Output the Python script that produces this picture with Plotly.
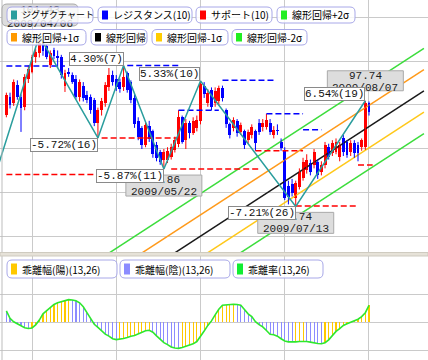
import plotly.graph_objects as go
import pandas as pd

W, H = 428, 360

# ---------------- data ----------------
dates = pd.bdate_range("2009-03-24", "2009-08-10").strftime("%Y/%m/%d").tolist()

opens = [96.93, 97.95, 97.61, 98.64, 97.95, 97.40, 99.00, 99.40, 100.20, 100.45,
         101.00, 100.85, 99.77, 100.60, 100.30, 100.20, 98.60, 99.38, 99.20, 99.00,
         97.95, 98.60, 98.07, 97.95, 97.78, 96.50, 97.20, 97.60, 98.50, 99.20,
         99.00, 98.80, 98.50, 99.30, 98.80, 97.90, 96.60, 96.20, 95.25, 96.30,
         96.00, 95.20, 94.83, 94.38, 94.40, 94.55, 94.94, 95.30, 96.80, 95.50,
         96.50, 95.90, 96.20, 96.60, 98.60, 97.60, 98.35, 97.60, 97.70, 98.45,
         97.20, 96.40, 96.20, 96.60, 95.97, 96.00, 95.50, 95.80, 96.00, 96.50,
         96.25, 96.25, 96.50, 95.80, 96.10, 95.40, 94.94, 92.90, 93.00, 92.20,
         92.84, 93.35, 93.81, 94.20, 94.09, 94.26, 93.69, 94.09, 95.11, 94.80,
         94.83, 94.55, 95.63, 95.40, 94.83, 95.34, 95.23, 95.11, 95.11, 97.60]
highs = [98.20, 98.20, 98.95, 98.90, 98.10, 99.25, 99.75, 100.35, 100.71, 101.43,
         101.15, 100.95, 100.60, 100.75, 100.60, 100.35, 99.50, 99.60, 99.35, 99.20,
         98.95, 98.80, 98.30, 98.10, 97.90, 97.35, 97.90, 98.80, 99.60, 99.45,
         99.20, 99.00, 99.74, 99.40, 98.90, 98.10, 96.80, 96.30, 96.50, 96.60,
         96.10, 95.40, 94.95, 95.00, 95.10, 95.30, 95.70, 97.20, 96.90, 96.70,
         96.60, 96.80, 96.90, 98.86, 98.80, 98.40, 98.50, 98.50, 98.60, 98.60,
         97.30, 96.50, 96.80, 96.70, 96.50, 96.10, 96.10, 96.40, 96.10, 96.70,
         96.70, 97.00, 96.70, 96.30, 96.40, 95.60, 95.10, 93.20, 93.30, 93.20,
         93.90, 94.50, 94.70, 94.40, 95.00, 94.40, 94.30, 95.40, 95.30, 95.50,
         95.60, 95.40, 95.80, 95.50, 95.50, 95.50, 95.40, 95.60, 97.74, 97.70]
lows = [96.80, 97.30, 97.45, 97.80, 95.97, 97.20, 98.75, 99.30, 99.90, 100.20,
        100.30, 100.10, 99.60, 100.10, 99.60, 99.00, 98.24, 99.10, 98.70, 97.85,
        97.70, 97.70, 97.60, 97.00, 96.30, 95.63, 96.90, 97.40, 98.30, 98.60,
        98.30, 98.20, 98.30, 98.20, 97.60, 96.20, 95.50, 95.00, 95.10, 95.40,
        94.50, 94.30, 94.10, 93.86, 94.20, 94.40, 94.80, 95.10, 95.30, 95.00,
        95.60, 95.80, 96.00, 96.40, 97.90, 97.40, 97.20, 97.40, 97.50, 97.70,
        96.20, 95.60, 96.00, 95.70, 95.80, 95.00, 95.30, 95.60, 94.90, 95.80,
        96.00, 96.10, 95.80, 95.60, 95.80, 94.90, 92.10, 91.85, 92.30, 91.74,
        92.70, 93.20, 93.60, 93.50, 93.90, 93.30, 93.50, 93.90, 94.40, 94.60,
        94.70, 94.30, 94.60, 94.50, 94.60, 94.50, 94.30, 94.90, 94.95, 96.90]
closes = [98.07, 97.50, 98.81, 97.95, 97.33, 99.10, 99.55, 100.23, 100.50, 101.05,
          100.55, 100.20, 100.45, 100.30, 100.17, 99.20, 99.30, 99.26, 98.81, 97.95,
          98.81, 97.90, 97.78, 97.22, 96.50, 97.20, 97.70, 98.64, 99.20, 98.81,
          98.50, 98.40, 99.10, 98.35, 97.80, 96.40, 95.70, 95.25, 96.36, 95.55,
          94.70, 94.50, 94.26, 94.83, 94.90, 95.11, 95.51, 96.80, 95.40, 96.50,
          95.90, 96.60, 96.65, 98.70, 98.10, 98.20, 97.40, 98.30, 98.45, 97.90,
          96.40, 95.80, 96.65, 95.90, 96.36, 95.20, 95.97, 96.25, 95.34, 95.97,
          96.50, 96.65, 95.97, 96.08, 96.00, 95.06, 92.22, 92.25, 92.50, 93.07,
          93.69, 94.26, 94.38, 93.69, 94.83, 93.52, 94.09, 95.23, 94.55, 95.34,
          95.40, 95.20, 94.83, 94.66, 95.34, 94.77, 94.77, 95.51, 97.60, 97.10]

# MA(13,26) deviation values (sub panel)
deviation = [0.40, 0.14, 0.02, -0.06, -0.13, -0.19, -0.22, -0.20, -0.09, 0.08,
             0.30, 0.42, 0.53, 0.63, 0.69, 0.73, 0.77, 0.80, 0.79, 0.76,
             0.69, 0.55, 0.34, 0.11, -0.07, -0.18, -0.31, -0.42, -0.49, -0.58,
             -0.61, -0.60, -0.57, -0.54, -0.49, -0.47, -0.41, -0.35, -0.30, -0.28,
             -0.35, -0.48, -0.60, -0.72, -0.79, -0.87, -0.91, -0.92, -0.89, -0.85,
             -0.81, -0.76, -0.68, -0.51, -0.31, -0.11, 0.05, 0.26, 0.46, 0.60,
             0.62, 0.63, 0.64, 0.63, 0.60, 0.45, 0.30, 0.20, 0.02, -0.08,
             -0.16, -0.29, -0.42, -0.44, -0.49, -0.58, -0.66, -0.69, -0.70, -0.69,
             -0.68, -0.67, -0.68, -0.70, -0.73, -0.75, -0.76, -0.72, -0.62, -0.46,
             -0.32, -0.22, -0.11, -0.05, 0.01, 0.06, 0.11, 0.20, 0.34, 0.60]

# zigzag pivots (bar index, price)
zz_idx = [-3, 9, 25, 32, 43, 53, 79, 98]
zz_price = [93.55, 101.43, 95.63, 99.74, 93.86, 98.86, 91.74, 97.74]
zz_text = [None, "8.42%(12)", "-5.72%(16)", "4.30%(7)", "-5.87%(11)",
           "5.33%(10)", "-7.21%(26)", "6.54%(19)"]
callout_idx = [9, 43, 79, 98]
callout_price = ["101.43", "93.86", "91.74", "97.74"]
callout_date = ["2009/04/06", "2009/05/22", "2009/07/13", "2009/08/07"]

# resistance / support segments: (start bar, end bar, level)
resistance = [(0, 16, 99.72), (33, 47, 99.74), (47, 58, 97.20), (59, 73, 98.90),
              (71, 81, 97.00), (81, 86, 96.10)]
support = [(0, 25, 93.55), (26, 47, 95.63), (45, 69, 93.86), (68, 81, 94.90),
           (79, 96, 91.76), (96, 100, 94.09)]

# linear regression channel
reg_from, reg_to = 0, 114
reg_anchor_idx, reg_anchor_val = 99, 96.27
reg_slope = 0.1353
reg_sigma = 1.21

main_legend = ["ジグザクチャート", "レジスタンス(10)", "サポート(10)", "線形回帰+2σ",
               "線形回帰+1σ", "線形回帰", "線形回帰-1σ", "線形回帰-2σ"]
sub_legend = ["乖離幅(陽)(13,26)", "乖離幅(陰)(13,26)", "乖離率(13,26)"]

# ---------------- style ----------------
UP, DOWN = "#FF0000", "#0000FF"
ZZ = "#2A9D9D"
C_P2, C_P1, C_C, C_M1, C_M2 = "#3CDD3C", "#FF9A1A", "#1A1A1A", "#FFC81A", "#3CDD3C"
GRID = "#CACACA"
JP = "Noto Sans CJK JP"
MONO = "Liberation Mono"

def X(p):
    return p / W

def Y(p):
    return 1 - p / H

def rr_path(x0, y0, x1, y1, r=4):
    return (f"M {X(x0 + r)},{Y(y0)} L {X(x1 - r)},{Y(y0)} Q {X(x1)},{Y(y0)} {X(x1)},{Y(y0 + r)} "
            f"L {X(x1)},{Y(y1 - r)} Q {X(x1)},{Y(y1)} {X(x1 - r)},{Y(y1)} "
            f"L {X(x0 + r)},{Y(y1)} Q {X(x0)},{Y(y1)} {X(x0)},{Y(y1 - r)} "
            f"L {X(x0)},{Y(y0 + r)} Q {X(x0)},{Y(y0)} {X(x0 + r)},{Y(y0)} Z")

n = len(closes)
idx = list(range(n))
fig = go.Figure()

# regression channel
for k, col in [(2, C_P2), (1, C_P1), (0, C_C), (-1, C_M1), (-2, C_M2)]:
    xs = [reg_from, reg_to]
    ys = [reg_anchor_val + (x - reg_anchor_idx) * reg_slope + k * reg_sigma for x in xs]
    fig.add_trace(go.Scatter(x=xs, y=ys, mode="lines", line=dict(color=col, width=1.5),
                             xaxis="x", yaxis="y", showlegend=False, hoverinfo="skip"))

# candles: wicks
for col, cond in [(UP, lambda i: closes[i] >= opens[i]), (DOWN, lambda i: closes[i] < opens[i])]:
    wx, wy = [], []
    for i in idx:
        if cond(i):
            wx += [i, i, None]
            wy += [lows[i], highs[i], None]
    fig.add_trace(go.Scatter(x=wx, y=wy, mode="lines", line=dict(color=col, width=1),
                             xaxis="x", yaxis="y", showlegend=False, hoverinfo="skip"))
# candle bodies
body = [max(abs(closes[i] - opens[i]), 0.04) for i in idx]
base = [min(opens[i], closes[i]) for i in idx]
bcol = [UP if closes[i] >= opens[i] else DOWN for i in idx]
fig.add_trace(go.Bar(x=idx, y=body, base=base, width=0.8, marker=dict(color=bcol, line_width=0),
                     xaxis="x", yaxis="y", showlegend=False, hoverinfo="skip"))

# support / resistance
for segs, col in [(resistance, DOWN), (support, UP)]:
    sx, sy = [], []
    for a, b, lv in segs:
        sx += [a, b, None]
        sy += [lv, lv, None]
    fig.add_trace(go.Scatter(x=sx, y=sy, mode="lines", line=dict(color=col, width=1.5, dash="6px,3px"),
                             xaxis="x", yaxis="y", showlegend=False, hoverinfo="skip"))

# zigzag
fig.add_trace(go.Scatter(x=zz_idx, y=zz_price, mode="lines", line=dict(color=ZZ, width=1.5),
                         xaxis="x", yaxis="y", showlegend=False, hoverinfo="skip"))

# sub panel bars + line
dcol = ["#8C8CFF" if i == 0 or deviation[i] < deviation[i - 1] else "#FFC800" for i in idx]
fig.add_trace(go.Bar(x=idx, y=deviation, width=0.3, marker=dict(color=dcol, line_width=0),
                     xaxis="x2", yaxis="y2", showlegend=False, hoverinfo="skip"))
fig.add_trace(go.Scatter(x=idx, y=deviation, mode="lines", line=dict(color="#2EE82E", width=1.6),
                         xaxis="x2", yaxis="y2", showlegend=False, hoverinfo="skip"))

# ---------------- layout ----------------
xr = [-1.736, 115.11]
main_dom = [1 - 253 / H, 1]
sub_dom = [0, 1 - 255 / H]
fig.update_layout(
    width=W, height=H, margin=dict(l=0, r=0, t=0, b=0),
    paper_bgcolor="white", plot_bgcolor="white", hovermode=False, bargap=0,
    xaxis=dict(domain=[0, 1], range=xr, tickvals=[7, 30, 53, 76, 99], showticklabels=False,
               showgrid=True, gridcolor=GRID, gridwidth=1, zeroline=False, anchor="y", ticks=""),
    yaxis=dict(domain=main_dom, range=[89.09, 103.466], tickvals=[90, 92.5, 95, 97.5, 100, 102.5],
               showticklabels=False, showgrid=True, gridcolor=GRID, gridwidth=1, zeroline=False,
               anchor="x", ticks=""),
    xaxis2=dict(domain=[0, 1], range=xr, tickvals=[7, 30, 53, 76, 99], showticklabels=False,
                showgrid=True, gridcolor=GRID, gridwidth=1, zeroline=False, anchor="y2", ticks=""),
    yaxis2=dict(domain=sub_dom, range=[-1.332, 2.378], tickvals=[-1, 0, 1], showticklabels=False,
                showgrid=True, gridcolor=GRID, gridwidth=1, zeroline=False, anchor="x2", ticks=""),
)

shapes = []
annotations = []

# frames and separator
shapes.append(dict(type="line", xref="paper", yref="paper", x0=X(2), x1=X(2), y0=Y(0), y1=Y(253),
                   line=dict(color="#BDBDBD", width=1), layer="above"))
shapes.append(dict(type="line", xref="paper", yref="paper", x0=X(2), x1=X(2), y0=Y(255), y1=Y(360),
                   line=dict(color="#BDBDBD", width=1), layer="above"))
shapes.append(dict(type="rect", xref="paper", yref="paper", x0=0, x1=1, y0=Y(256), y1=Y(252.5),
                   fillcolor="#E6E2D8", line=dict(color="#CFCBC0", width=1), layer="above"))

# label for first pivot (mostly covered by the legend)
shapes.append(dict(type="path", path=rr_path(2, 4, 78, 26, 5), xref="paper", yref="paper",
                   fillcolor="#DDDDDD", line=dict(color="#AAAAAA", width=1), layer="above",
                   label=dict(text=callout_price[0] + "<br>" + callout_date[0],
                              font=dict(family=MONO, size=11, color="#222"), textposition="middle center")))

# legend boxes
def legend_item(x0, x1, y0, y1, color, text, size=10):
    shapes.append(dict(type="path", path=rr_path(x0, y0, x1, y1, 5), xref="paper", yref="paper",
                       fillcolor="rgba(255,255,255,0.82)", line=dict(color="#A8A8E8", width=1),
                       layer="above"))
    shapes.append(dict(type="rect", xref="paper", yref="paper", x0=X(x0 + 4), x1=X(x0 + 10),
                       y0=Y(y0 + 3.5), y1=Y(y1 - 3.5), fillcolor=color, line=dict(width=0), layer="above"))
    annotations.append(dict(xref="paper", yref="paper", x=X(x0 + 13), y=Y((y0 + y1) / 2),
                            xanchor="left", yanchor="middle", text=text, showarrow=False,
                            font=dict(family=JP, size=size, color="#000")))

main_colors = [ZZ, DOWN, UP, "#22EE22", "#FF9900", "#000000", "#FFCC00", "#22EE22"]
row1 = [(7, 93), (98, 192), (196, 272), (277, 355)]
row2 = [(7, 86), (91, 147), (152, 228), (232, 307)]
sizes = [9, 10, 10, 10, 10, 10, 10, 10]
for k, (a, b) in enumerate(row1):
    legend_item(a, b, 7, 23, main_colors[k], main_legend[k], sizes[k])
for k, (a, b) in enumerate(row2):
    legend_item(a, b, 29.5, 45, main_colors[4 + k], main_legend[4 + k], sizes[4 + k])
sub_colors = ["#FFC800", "#8C8CFF", "#11EE33"]
for k, (a, b) in enumerate([(7, 117), (120, 230), (233, 323)]):
    legend_item(a, b, 260, 278, sub_colors[k], sub_legend[k], 10)

# callouts (price/date)
for j, (ci, cp, cd) in enumerate(zip(callout_idx, callout_price, callout_date)):
    if j == 0:
        continue
    py = zz_price[zz_idx.index(ci)]
    is_peak = ci == 98
    if is_peak:
        y0, y1, s1, s2 = 10, 30, 25, 13
    else:
        y0, y1, s1, s2 = -6, -27, -11, -23
    shapes.append(dict(type="rect", xref="x", yref="y", xsizemode="pixel", ysizemode="pixel",
                       xanchor=ci, yanchor=py, x0=-38, x1=38, y0=y0, y1=y1,
                       fillcolor="#DDDDDD", line=dict(color="#AAAAAA", width=1), layer="above"))
    annotations.append(dict(x=ci, y=py, xref="x", yref="y", text=cp, showarrow=False, yshift=s1,
                            xanchor="center", yanchor="middle", font=dict(family=MONO, size=11, color="#222")))
    annotations.append(dict(x=ci, y=py, xref="x", yref="y", text=cd, showarrow=False, yshift=s2,
                            xanchor="center", yanchor="middle", font=dict(family=MONO, size=11, color="#222")))

# swing percentage boxes
for k in range(2, len(zz_idx)):
    peak = zz_price[k] > zz_price[k - 1]
    annotations.append(dict(x=zz_idx[k], y=zz_price[k], xref="x", yref="y", text=zz_text[k],
                            showarrow=False, xanchor="right", yanchor="bottom" if peak else "top",
                            bgcolor="white", bordercolor="#8A8A8A", borderwidth=1, borderpad=0,
                            font=dict(family=MONO, size=11, color="#111")))

fig.update_layout(shapes=shapes, annotations=annotations)
fig.write_html("out.html", config={"displayModeBar": False, "staticPlot": True},
               post_script="document.body.style.margin='0';document.body.style.overflow='hidden';")
